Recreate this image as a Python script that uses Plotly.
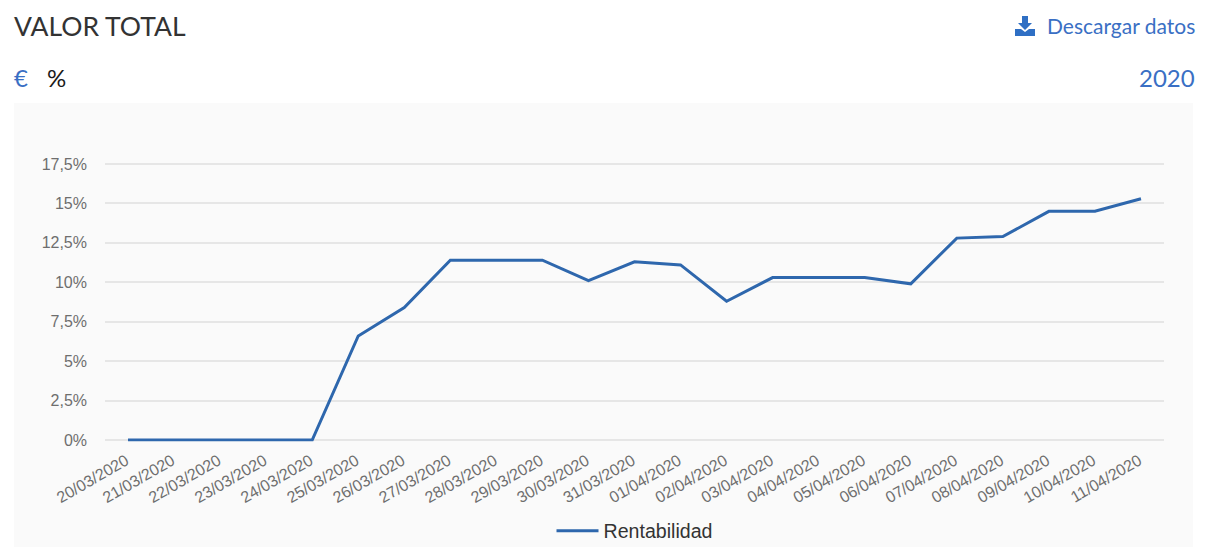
import plotly.graph_objects as go

dates = ["20/03/2020","21/03/2020","22/03/2020","23/03/2020","24/03/2020","25/03/2020","26/03/2020",
         "27/03/2020","28/03/2020","29/03/2020","30/03/2020","31/03/2020","01/04/2020","02/04/2020",
         "03/04/2020","04/04/2020","05/04/2020","06/04/2020","07/04/2020","08/04/2020","09/04/2020",
         "10/04/2020","11/04/2020"]
rentabilidad = [0,0,0,0,0,6.6,8.4,11.4,11.4,11.4,10.1,11.3,11.1,8.8,10.3,10.3,10.3,9.9,12.8,12.9,14.5,14.5,15.3]
y_ticks = [0,2.5,5,7.5,10,12.5,15,17.5]
y_labels = ["0%","2,5%","5%","7,5%","10%","12,5%","15%","17,5%"]

W, H = 1207, 547
BLUE = "#3a6fc4"
LINE = "#2e67ad"
TICK = "#6e6e6e"

def px(x): return x / W
def py(y): return 1 - y / H

fig = go.Figure(go.Scatter(x=dates, y=rentabilidad, mode="lines", name="Rentabilidad",
                           line=dict(color=LINE, width=3), showlegend=True, cliponaxis=False))

def text(s, x, y, anchor, size, color, font="Lato"):
    fig.add_annotation(text=s, xref="paper", yref="paper", x=px(x), y=py(y), xanchor=anchor, yanchor="middle",
                       showarrow=False, font=dict(family=font, size=size, color=color), borderpad=0, borderwidth=0)

text("VALOR TOTAL", 14, 25.5, "left", 26.5, "#333333")
text("€", 14, 77.5, "left", 24, BLUE)
text("%", 47, 77.5, "left", 24, "#1a1a1a")
text("Descargar datos", 1194.5, 26, "right", 21, BLUE)
text("2020", 1195, 77.5, "right", 24, BLUE)

# panel behind the chart
fig.add_shape(type="rect", xref="paper", yref="paper", x0=px(14), x1=px(1193), y0=py(547), y1=py(103),
              fillcolor="#fafafa", line_width=0, layer="below")
# download icon
for path in [
    f"M {px(1022)} {py(16)} L {px(1028)} {py(16)} L {px(1028)} {py(23)} L {px(1032)} {py(23)} L {px(1025)} {py(30)} L {px(1018)} {py(23)} L {px(1022)} {py(23)} Z",
    f"M {px(1015)} {py(29)} L {px(1021)} {py(29)} L {px(1025)} {py(32)} L {px(1029)} {py(29)} L {px(1035)} {py(29)} L {px(1035)} {py(36)} L {px(1015)} {py(36)} Z",
]:
    fig.add_shape(type="path", path=path, xref="paper", yref="paper", fillcolor="#2f6fc4", line_width=0)

fig.update_layout(
    width=W, height=H, autosize=False,
    margin=dict(l=0, r=0, t=0, b=0, pad=0, autoexpand=False),
    paper_bgcolor="white", plot_bgcolor="rgba(0,0,0,0)",
    font=dict(family="Liberation Sans", color=TICK, size=16),
    xaxis=dict(domain=[px(105), px(1164)], type="category", range=[-0.5, 22.5], tickangle=-30,
               showgrid=False, zeroline=False, showline=False, ticks="", tickmode="array",
               tickvals=dates, ticktext=dates, tickfont=dict(size=16, color=TICK),
               ticklabelstandoff=6, ticklabelshift=-2, automargin=False),
    yaxis=dict(domain=[py(441.58), py(162.42)], range=[-0.1, 17.6], tickmode="array", tickvals=y_ticks,
               ticktext=y_labels, showgrid=True, gridcolor="#e6e6e6", gridwidth=2, zeroline=False,
               showline=False, ticks="", tickfont=dict(size=16, color=TICK), ticklabelstandoff=17,
               automargin=False),
    legend=dict(orientation="h", x=px(634.5), y=py(531), xanchor="center", yanchor="middle", itemwidth=42,
                font=dict(size=19.6, color="#333333", family="Liberation Sans"), bgcolor="rgba(0,0,0,0)"),
)

fig.write_html("out.html", config=dict(displayModeBar=False),
               post_script="document.body.style.margin='0';document.documentElement.style.overflow='hidden';")
